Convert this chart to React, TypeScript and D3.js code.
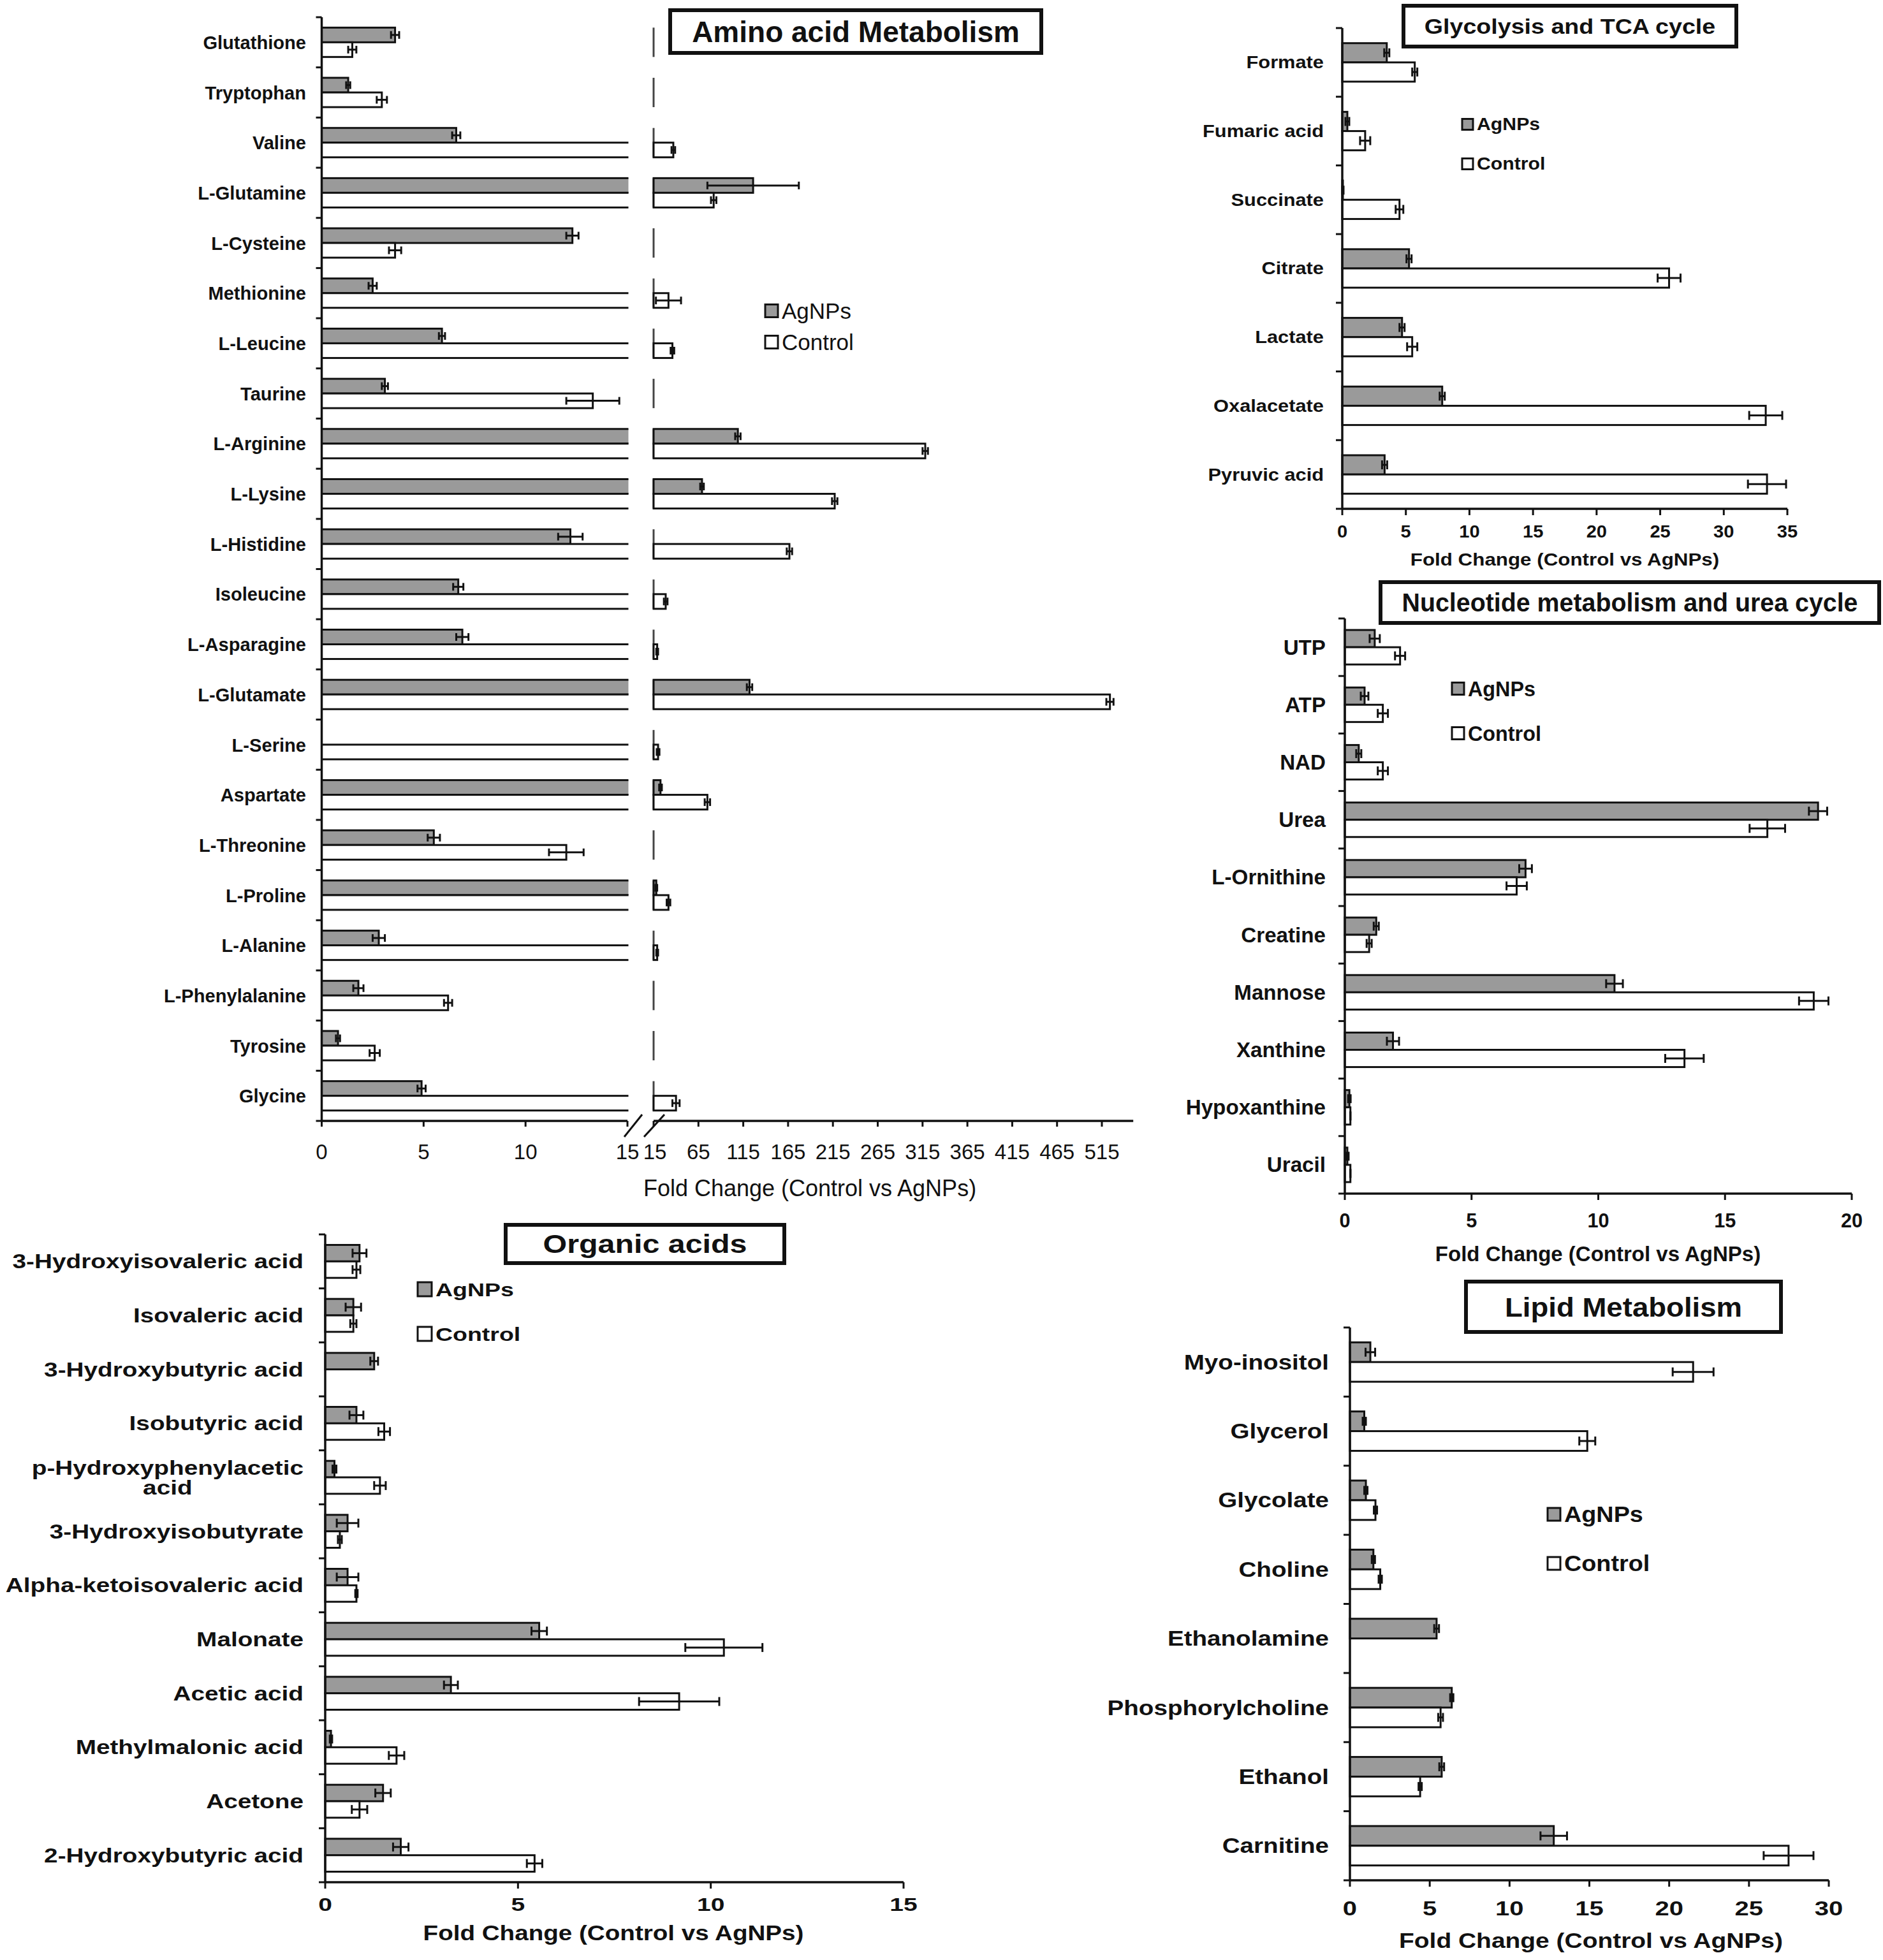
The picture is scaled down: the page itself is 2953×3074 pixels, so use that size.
import React, { useLayoutEffect, useRef, useState } from "react";
import * as d3 from "d3";

const FONT = "'Liberation Sans', Arial, Helvetica, sans-serif";
const SERIES = ["AgNPs", "Control"];
const AXIS_TITLE = "Fold Change (Control vs AgNPs)";
const GREY = "#9a9a9a";
const INK = "#111";

// ---------------- Amino acid metabolism ----------------
const aminoCategories = [
  "Glutathione", "Tryptophan", "Valine", "L-Glutamine", "L-Cysteine", "Methionine",
  "L-Leucine", "Taurine", "L-Arginine", "L-Lysine", "L-Histidine", "Isoleucine",
  "L-Asparagine", "L-Glutamate", "L-Serine", "Aspartate", "L-Threonine", "L-Proline",
  "L-Alanine", "L-Phenylalanine", "Tyrosine", "Glycine",
];
const aminoAgNPs = [3.6, 1.3, 6.6, 126, 12.3, 2.5, 5.9, 3.1, 109, 69, 12.2, 6.7, 6.9, 122, 0, 22.7, 5.5, 18, 2.8, 1.8, 0.8, 4.9];
const aminoAgNPsErr = [0.2, 0.1, 0.2, 51, 0.3, 0.2, 0.15, 0.15, 3, 2, 0.6, 0.25, 0.3, 3, 0, 1.5, 0.3, 1, 0.3, 0.25, 0.1, 0.2];
const aminoControl = [1.5, 2.95, 37, 82, 3.6, 31.6, 36, 13.3, 318, 217, 166.5, 28.5, 19, 524, 20, 75, 12.0, 31.6, 19, 6.2, 2.6, 40];
const aminoControlErr = [0.2, 0.25, 2, 3, 0.3, 14, 2, 1.3, 3, 3, 3, 2, 1, 4, 1.5, 3, 0.85, 2, 1, 0.2, 0.25, 4];
const aminoTicksLeft = [0, 5, 10, 15];
const aminoTicksRight = [15, 65, 115, 165, 215, 265, 315, 365, 415, 465, 515];

// ---------------- Glycolysis and TCA cycle ----------------
const glyCategories = ["Formate", "Fumaric acid", "Succinate", "Citrate", "Lactate", "Oxalacetate", "Pyruvic acid"];
const glyAgNPs = [3.5, 0.4, 0.05, 5.25, 4.7, 7.86, 3.33];
const glyAgNPsErr = [0.2, 0.15, 0.05, 0.2, 0.2, 0.2, 0.2];
const glyControl = [5.7, 1.8, 4.5, 25.7, 5.5, 33.3, 33.4];
const glyControlErr = [0.2, 0.4, 0.3, 0.9, 0.4, 1.3, 1.5];

// ---------------- Nucleotide metabolism and urea cycle ----------------
const nucCategories = ["UTP", "ATP", "NAD", "Urea", "L-Ornithine", "Creatine", "Mannose", "Xanthine", "Hypoxanthine", "Uracil"];
const nucAgNPs = [1.18, 0.78, 0.55, 18.67, 7.13, 1.24, 10.64, 1.9, 0.18, 0.1];
const nucAgNPsErr = [0.2, 0.15, 0.1, 0.36, 0.25, 0.1, 0.33, 0.24, 0.05, 0.05];
const nucControl = [2.18, 1.5, 1.5, 16.67, 6.78, 0.96, 18.5, 13.4, 0.22, 0.22];
const nucControlErr = [0.2, 0.2, 0.2, 0.7, 0.4, 0.1, 0.58, 0.76, 0, 0];

// ---------------- Organic acids ----------------
const orgCategories = [
  "3-Hydroxyisovaleric acid", "Isovaleric acid", "3-Hydroxybutyric acid", "Isobutyric acid",
  "p-Hydroxyphenylacetic\nacid", "3-Hydroxyisobutyrate", "Alpha-ketoisovaleric acid", "Malonate",
  "Acetic acid", "Methylmalonic acid", "Acetone", "2-Hydroxybutyric acid",
];
const orgAgNPs = [0.89, 0.73, 1.27, 0.81, 0.24, 0.58, 0.58, 5.55, 3.26, 0.15, 1.5, 1.96];
const orgAgNPsErr = [0.18, 0.2, 0.1, 0.18, 0.05, 0.28, 0.28, 0.2, 0.18, 0.03, 0.2, 0.2];
const orgControl = [0.81, 0.73, 0, 1.53, 1.42, 0.38, 0.81, 10.34, 9.18, 1.85, 0.89, 5.43];
const orgControlErr = [0.1, 0.08, 0, 0.15, 0.15, 0.05, 0.03, 1.0, 1.04, 0.2, 0.2, 0.2];

// ---------------- Lipid metabolism ----------------
const lipCategories = ["Myo-inositol", "Glycerol", "Glycolate", "Choline", "Ethanolamine", "Phosphorylcholine", "Ethanol", "Carnitine"];
const lipAgNPs = [1.28, 0.9, 1.0, 1.47, 5.43, 6.38, 5.75, 12.77];
const lipAgNPsErr = [0.3, 0.1, 0.1, 0.1, 0.15, 0.1, 0.15, 0.83];
const lipControl = [21.5, 14.87, 1.6, 1.9, 0, 5.68, 4.4, 27.48];
const lipControlErr = [1.28, 0.5, 0.1, 0.1, 0, 0.15, 0.1, 1.56];

type TS = { size: number; sx: number; weight: string | number };

function T(props: { x: number; y: number; s: TS; anchor?: string; children: any; refEl?: any }) {
  const { x, y, s, anchor = "start", children, refEl } = props;
  return (
    <text
      ref={refEl}
      transform={`translate(${x},${y}) scale(${s.sx},1)`}
      textAnchor={anchor as any}
      dominantBaseline="central"
      fontSize={s.size}
      fontWeight={s.weight as any}
      fontFamily={FONT}
      fill={INK}
    >
      {children}
    </text>
  );
}

function Label({ x, y, text, s }: { x: number; y: number; text: string; s: TS }) {
  const lines = text.split("\n");
  const ref = useRef<SVGTextElement>(null);
  const [w, setW] = useState(0);
  useLayoutEffect(() => {
    if (lines.length > 1 && ref.current) setW(ref.current.getComputedTextLength() * s.sx);
  }, [text]);
  if (lines.length === 1) return <T x={x} y={y} s={s} anchor="end">{text}</T>;
  const lh = s.size * 1.0;
  return (
    <g>
      <T x={x} y={y - lh / 2} s={s} anchor="end" refEl={ref}>{lines[0]}</T>
      <T x={x - w / 2} y={y + lh / 2} s={s} anchor="middle">{lines[1]}</T>
    </g>
  );
}

function ErrBar({ a, b, yc, cap = 14 }: { a: number; b: number; yc: number; cap?: number }) {
  return (
    <g stroke={INK} strokeWidth={3}>
      <line x1={a} x2={b} y1={yc} y2={yc} />
      <line x1={a} x2={a} y1={yc - cap / 2} y2={yc + cap / 2} />
      <line x1={b} x2={b} y1={yc - cap / 2} y2={yc + cap / 2} />
    </g>
  );
}

function Legend({ x, ys, size, s, textGap = 6 }: { x: number; ys: number[]; size: number; s: TS; textGap?: number }) {
  return (
    <g>
      {SERIES.map((k, i) => (
        <g key={k}>
          <rect x={x} y={ys[i] - size / 2} width={size} height={size} fill={i === 0 ? GREY : "#fff"} stroke={INK} strokeWidth={3} />
          <T x={x + size + textGap} y={ys[i]} s={s}>{k}</T>
        </g>
      ))}
    </g>
  );
}

function TitleBox({ box, text, s }: { box: { x: number; y: number; w: number; h: number }; text: string; s: TS }) {
  return (
    <g>
      <rect x={box.x} y={box.y} width={box.w} height={box.h} fill="#fff" stroke={INK} strokeWidth={6} />
      <T x={box.x + box.w / 2} y={box.y + box.h / 2} s={s} anchor="middle">{text}</T>
    </g>
  );
}

type PanelCfg = {
  categories: string[]; ag: number[]; agErr: number[]; ctrl: number[]; ctrlErr: number[];
  xMax: number; xStep: number; x0: number; x1: number; y0: number; y1: number; fill: number;
  labelX: number; labelS: TS; tickS: TS; tickY: number;
  axisTitleX: number; axisTitleY: number; axisTitleS: TS;
  legendX: number; legendY: number[]; legendSize: number; legendS: TS;
  title: string; box: { x: number; y: number; w: number; h: number }; titleS: TS;
};

function Panel({ cfg }: { cfg: PanelCfg }) {
  const x = d3.scaleLinear().domain([0, cfg.xMax]).range([cfg.x0, cfg.x1]);
  const pad = 1 - cfg.fill;
  const y = d3.scaleBand<string>().domain(cfg.categories).range([cfg.y0, cfg.y1]).paddingInner(pad).paddingOuter(pad / 2);
  const sub = d3.scaleBand<string>().domain(SERIES).range([0, y.bandwidth()]);
  const ticks = d3.range(0, cfg.xMax + 1e-9, cfg.xStep);
  const boundaries = d3.range(cfg.categories.length + 1).map((k) => cfg.y0 + k * y.step());
  const series = [
    { key: "AgNPs", vals: cfg.ag, errs: cfg.agErr, fill: GREY },
    { key: "Control", vals: cfg.ctrl, errs: cfg.ctrlErr, fill: "#fff" },
  ];
  return (
    <g>
      {series.map((s) =>
        cfg.categories.map((c, i) => {
          const v = s.vals[i];
          if (!(v > 0)) return null;
          return (
            <rect key={s.key + c} x={x(0)} y={(y(c) as number) + (sub(s.key) as number)} width={x(v) - x(0)}
              height={sub.bandwidth()} fill={s.fill} stroke={INK} strokeWidth={3} />
          );
        })
      )}
      {series.map((s) =>
        cfg.categories.map((c, i) => {
          const v = s.vals[i];
          const e = s.errs[i];
          if (!(v > 0)) return null;
          const yc = (y(c) as number) + (sub(s.key) as number) + sub.bandwidth() / 2;
          return <ErrBar key={"e" + s.key + c} a={x(Math.max(0, v - e))} b={x(v + e)} yc={yc} />;
        })
      )}
      <line x1={x(0)} x2={x(0)} y1={cfg.y0} y2={cfg.y1} stroke={INK} strokeWidth={3.5} />
      {boundaries.map((b, k) => (
        <line key={"yt" + k} x1={x(0) - 10} x2={x(0)} y1={b} y2={b} stroke={INK} strokeWidth={3} />
      ))}
      <line x1={x(0)} x2={x(cfg.xMax)} y1={cfg.y1} y2={cfg.y1} stroke={INK} strokeWidth={3.5} />
      {ticks.map((t) => (
        <g key={"xt" + t}>
          <line x1={x(t)} x2={x(t)} y1={cfg.y1} y2={cfg.y1 + 10} stroke={INK} strokeWidth={3} />
          <T x={x(t)} y={cfg.tickY} s={cfg.tickS} anchor="middle">{String(t)}</T>
        </g>
      ))}
      {cfg.categories.map((c) => (
        <Label key={"l" + c} x={cfg.labelX} y={(y(c) as number) + y.bandwidth() / 2} text={c} s={cfg.labelS} />
      ))}
      <T x={cfg.axisTitleX} y={cfg.axisTitleY} s={cfg.axisTitleS} anchor="middle">{AXIS_TITLE}</T>
      <Legend x={cfg.legendX} ys={cfg.legendY} size={cfg.legendSize} s={cfg.legendS} />
      <TitleBox box={cfg.box} text={cfg.title} s={cfg.titleS} />
    </g>
  );
}

function AminoPanel() {
  const x0 = 504.5, xBreak = 984, xR0 = 1025, xR1 = 1728, y0 = 27, y1 = 1758, fill = 0.585;
  const xL = d3.scaleLinear().domain([0, 15]).range([x0, xBreak]);
  const xR = d3.scaleLinear().domain([15, 515]).range([xR0, xR1]);
  const pad = 1 - fill;
  const y = d3.scaleBand<string>().domain(aminoCategories).range([y0, y1]).paddingInner(pad).paddingOuter(pad / 2);
  const sub = d3.scaleBand<string>().domain(SERIES).range([0, y.bandwidth()]);
  const boundaries = d3.range(aminoCategories.length + 1).map((k) => y0 + k * y.step());
  const series = [
    { key: "AgNPs", vals: aminoAgNPs, errs: aminoAgNPsErr, fill: GREY },
    { key: "Control", vals: aminoControl, errs: aminoControlErr, fill: "#fff" },
  ];
  const labelS: TS = { size: 30, sx: 0.97, weight: "bold" };
  const tickS: TS = { size: 33, sx: 1, weight: "normal" };
  const axisS: TS = { size: 36, sx: 1, weight: "normal" };
  const legS: TS = { size: 35, sx: 1, weight: "normal" };
  const titleS: TS = { size: 46, sx: 1, weight: "bold" };
  const top = (c: string, k: string) => (y(c) as number) + (sub(k) as number);
  return (
    <g>
      <defs>
        <clipPath id="amino-left">
          <rect x={0} y={0} width={xL(15) + 1.5} height={3074} />
        </clipPath>
      </defs>
      {aminoCategories.map((c) => (
        <line key={"d" + c} x1={xR(15)} x2={xR(15)} y1={y(c) as number} y2={(y(c) as number) + y.bandwidth()} stroke="#444" strokeWidth={3} />
      ))}
      <g clipPath="url(#amino-left)">
        {series.map((s) =>
          aminoCategories.map((c, i) => {
            const v = s.vals[i];
            if (!(v > 0)) return null;
            return (
              <rect key={"L" + s.key + c} x={xL(0)} y={top(c, s.key)} width={xL(Math.min(v, 15.4)) - xL(0)}
                height={sub.bandwidth()} fill={s.fill} stroke={INK} strokeWidth={3} />
            );
          })
        )}
      </g>
      {series.map((s) =>
        aminoCategories.map((c, i) => {
          const v = s.vals[i];
          if (!(v > 15)) return null;
          return (
            <rect key={"R" + s.key + c} x={xR(15)} y={top(c, s.key)} width={xR(v) - xR(15)}
              height={sub.bandwidth()} fill={s.fill} stroke={INK} strokeWidth={3} />
          );
        })
      )}
      {series.map((s) =>
        aminoCategories.map((c, i) => {
          const v = s.vals[i];
          const e = s.errs[i];
          if (!(v > 0)) return null;
          const yc = top(c, s.key) + sub.bandwidth() / 2;
          if (v < 15) return <ErrBar key={"eL" + s.key + c} a={xL(Math.max(0, v - e))} b={xL(v + e)} yc={yc} cap={12} />;
          return <ErrBar key={"eR" + s.key + c} a={xR(Math.max(15, v - e))} b={xR(v + e)} yc={yc} cap={12} />;
        })
      )}
      <line x1={xL(0)} x2={xL(0)} y1={y0} y2={y1} stroke={INK} strokeWidth={3.5} />
      {boundaries.map((b, k) => (
        <line key={"yt" + k} x1={xL(0) - 9} x2={xL(0)} y1={b} y2={b} stroke={INK} strokeWidth={3} />
      ))}
      <line x1={xL(0)} x2={xL(15)} y1={y1} y2={y1} stroke={INK} strokeWidth={3.5} />
      <line x1={xR(15)} x2={xR(550)} y1={y1} y2={y1} stroke={INK} strokeWidth={3.5} />
      {aminoTicksLeft.map((t) => (
        <g key={"tl" + t}>
          <line x1={xL(t)} x2={xL(t)} y1={y1} y2={y1 + 9} stroke={INK} strokeWidth={3} />
          <T x={xL(t)} y={1806} s={tickS} anchor="middle">{String(t)}</T>
        </g>
      ))}
      {aminoTicksRight.map((t) => (
        <g key={"tr" + t}>
          <line x1={xR(t)} x2={xR(t)} y1={y1} y2={y1 + 9} stroke={INK} strokeWidth={3} />
          <T x={xR(t) + (t === 15 ? 2 : 0)} y={1806} s={tickS} anchor="middle">{String(t)}</T>
        </g>
      ))}
      <line x1={xL(15) - 5} y1={y1 + 25} x2={xL(15) + 23} y2={y1 - 10} stroke={INK} strokeWidth={3} />
      <line x1={xR(15) - 15} y1={y1 + 25} x2={xR(15) + 17} y2={y1 - 10} stroke={INK} strokeWidth={3} />
      {aminoCategories.map((c) => (
        <Label key={"l" + c} x={480} y={(y(c) as number) + y.bandwidth() / 2} text={c} s={labelS} />
      ))}
      <T x={1270} y={1863} s={axisS} anchor="middle">{AXIS_TITLE}</T>
      <Legend x={1200} ys={[487.5, 536.5]} size={20} s={legS} textGap={6} />
      <TitleBox box={{ x: 1051, y: 16, w: 582, h: 67 }} text="Amino acid Metabolism" s={titleS} />
    </g>
  );
}

const glyCfg: PanelCfg = {
  categories: glyCategories, ag: glyAgNPs, agErr: glyAgNPsErr, ctrl: glyControl, ctrlErr: glyControlErr,
  xMax: 35, xStep: 5, x0: 2105, x1: 2803, y0: 44, y1: 798, fill: 0.56,
  labelX: 2076, labelS: { size: 27.5, sx: 1.12, weight: "bold" },
  tickS: { size: 28, sx: 1.04, weight: "bold" }, tickY: 833,
  axisTitleX: 2454, axisTitleY: 877, axisTitleS: { size: 28.5, sx: 1.1, weight: "bold" },
  legendX: 2293, legendY: [195, 257], legendSize: 17, legendS: { size: 27, sx: 1.12, weight: "bold" },
  title: "Glycolysis and TCA cycle", box: { x: 2201, y: 9, w: 522, h: 64 }, titleS: { size: 33, sx: 1.14, weight: "bold" },
};

const nucCfg: PanelCfg = {
  categories: nucCategories, ag: nucAgNPs, agErr: nucAgNPsErr, ctrl: nucControl, ctrlErr: nucControlErr,
  xMax: 20, xStep: 5, x0: 2109, x1: 2904, y0: 970, y1: 1872, fill: 0.6,
  labelX: 2079, labelS: { size: 33.5, sx: 0.99, weight: "bold" },
  tickS: { size: 31, sx: 0.99, weight: "bold" }, tickY: 1914,
  axisTitleX: 2506, axisTitleY: 1966, axisTitleS: { size: 33, sx: 1.0, weight: "bold" },
  legendX: 2277, legendY: [1080, 1150], legendSize: 19, legendS: { size: 33, sx: 0.98, weight: "bold" },
  title: "Nucleotide metabolism and urea cycle", box: { x: 2165, y: 913, w: 782, h: 64 }, titleS: { size: 41, sx: 0.96, weight: "bold" },
};

const orgCfg: PanelCfg = {
  categories: orgCategories, ag: orgAgNPs, agErr: orgAgNPsErr, ctrl: orgControl, ctrlErr: orgControlErr,
  xMax: 15, xStep: 5, x0: 510, x1: 1417, y0: 1936, y1: 2952, fill: 0.61,
  labelX: 476, labelS: { size: 31, sx: 1.25, weight: "bold" },
  tickS: { size: 30, sx: 1.3, weight: "bold" }, tickY: 2987,
  axisTitleX: 962, axisTitleY: 3032, axisTitleS: { size: 33, sx: 1.17, weight: "bold" },
  legendX: 655, legendY: [2022, 2092], legendSize: 22, legendS: { size: 30, sx: 1.25, weight: "bold" },
  title: "Organic acids", box: { x: 793, y: 1921, w: 437, h: 60 }, titleS: { size: 41, sx: 1.18, weight: "bold" },
};

const lipCfg: PanelCfg = {
  categories: lipCategories, ag: lipAgNPs, agErr: lipAgNPsErr, ctrl: lipControl, ctrlErr: lipControlErr,
  xMax: 30, xStep: 5, x0: 2117, x1: 2868, y0: 2082, y1: 2949, fill: 0.57,
  labelX: 2084, labelS: { size: 33, sx: 1.17, weight: "bold" },
  tickS: { size: 32, sx: 1.25, weight: "bold" }, tickY: 2993,
  axisTitleX: 2495, axisTitleY: 3044, axisTitleS: { size: 33, sx: 1.18, weight: "bold" },
  legendX: 2427, legendY: [2375, 2452], legendSize: 20, legendS: { size: 35, sx: 1.08, weight: "bold" },
  title: "Lipid Metabolism", box: { x: 2299, y: 2010, w: 494, h: 79 }, titleS: { size: 43, sx: 1.06, weight: "bold" },
};

export default function App() {
  return (
    <div>
      <style>{`html,body{margin:0;padding:0;background:#fff}`}</style>
      <svg width={2953} height={3074} viewBox="0 0 2953 3074" style={{ display: "block" }}>
        <rect x={0} y={0} width={2953} height={3074} fill="#fff" />
        <AminoPanel />
        <Panel cfg={glyCfg} />
        <Panel cfg={nucCfg} />
        <Panel cfg={orgCfg} />
        <Panel cfg={lipCfg} />
      </svg>
    </div>
  );
}
